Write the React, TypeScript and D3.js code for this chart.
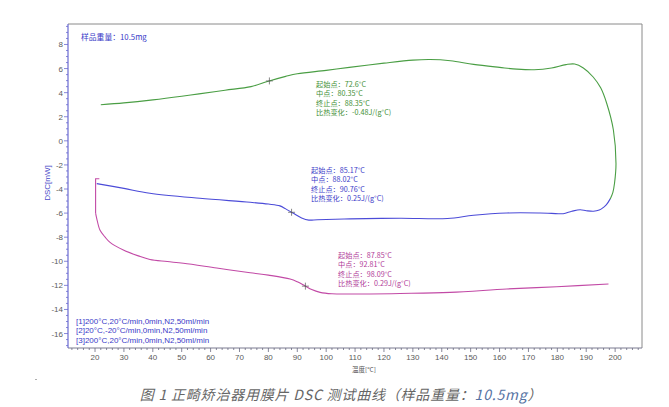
import * as d3 from "d3";
import { useEffect, useRef } from "react";

type Pt = [number, number];

// [1] heating 20 -> 200 °C, turning down at the isothermal end
const seg1: Pt[] = [
  [22, 3.0], [30, 3.15], [40, 3.4], [50, 3.7], [56, 3.9], [65, 4.2], [74, 4.5],
  [80, 4.95], [86, 5.35], [90, 5.57], [100, 5.85], [108, 6.1], [120, 6.45],
  [130, 6.7], [136, 6.75], [143, 6.65], [151, 6.35], [160, 6.1], [166, 5.95],
  [172, 5.9], [178, 6.05], [183, 6.33], [186, 6.38], [189, 6.05], [192.4, 5.3],
  [195, 4.4], [197.1, 3.1], [199.4, 0.9], [200.3, -1.9], [199.8, -3.5],
  [199.2, -4.3], [198.3, -4.82],
];

// [2] cooling 200 -> 20 °C
const seg2: Pt[] = [
  [198.3, -4.82], [197, -5.3], [196, -5.52], [194.5, -5.75], [192.5, -5.85],
  [190, -5.8], [187.9, -5.72], [185, -5.85], [182, -6.05], [178, -6.02],
  [174, -5.99], [162.5, -5.99], [151, -6.18], [142, -6.45], [125.6, -6.43],
  [108.3, -6.48], [97, -6.55], [94, -6.58], [91.5, -6.4], [88.5, -6.0],
  [86, -5.65], [84, -5.4], [80, -5.25], [73.7, -5.1], [56.3, -4.77],
  [39, -4.35], [30, -3.95], [20.6, -3.55],
];

// [3] second heating 20 -> 200 °C
const seg3Hook: Pt[] = [[21.5, -3.15], [20.2, -3.15], [20.2, -6.0]];
const seg3: Pt[] = [
  [20.2, -6.0], [20.6, -6.45], [21.7, -7.4], [23.5, -8.0], [25.2, -8.43],
  [29.8, -9.06], [35, -9.55], [39, -9.85], [45, -10.02], [50.6, -10.17],
  [62.1, -10.56], [73.7, -10.95], [80, -11.15], [87.5, -11.47], [90, -11.7],
  [92.7, -12.05], [95, -12.35], [97.9, -12.58], [102, -12.7], [108.3, -12.72],
  [125.6, -12.67], [142.9, -12.58], [162.5, -12.3], [179.8, -12.11],
  [197.7, -11.89],
];

const midpoints = [80.35, 88.02, 92.81];

const notes1 = ["起始点：72.6°C", "中点：80.35°C", "终止点：88.35°C", "比热变化：-0.48J/(g°C)"];
const notes2 = ["起始点：85.17°C", "中点：88.02°C", "终止点：90.76°C", "比热变化：0.25J/(g°C)"];
const notes3 = ["起始点：87.85°C", "中点：92.81°C", "终止点：98.09°C", "比热变化：0.29J/(g°C)"];

const methodLines = [
  "[1]200°C,20°C/min,0min,N2,50ml/min",
  "[2]20°C,-20°C/min,0min,N2,50ml/min",
  "[3]200°C,20°C/min,0min,N2,50ml/min",
];

const xTicks = [20, 30, 40, 50, 60, 70, 80, 90, 100, 110, 120, 130, 140, 150, 160, 170, 180, 190, 200];
const yTicks = [8, 6, 4, 2, 0, -2, -4, -6, -8, -10, -12, -14, -16];

const W = 669;
const H = 407;
const cjk = "'Noto Sans CJK SC', 'Liberation Sans', sans-serif";
const sans = "'Liberation Sans', Arial, 'Noto Sans CJK SC', sans-serif";

function yAt(pts: Pt[], t: number) {
  for (let i = 0; i < pts.length - 1; i++) {
    const [a, ya] = pts[i];
    const [b, yb] = pts[i + 1];
    if ((t - a) * (t - b) <= 0 && a !== b) return ya + ((t - a) / (b - a)) * (yb - ya);
  }
  return pts[0][1];
}

export default function App() {
  const ref = useRef<SVGSVGElement>(null);

  useEffect(() => {
    if (!ref.current) return;
    const svg = d3.select(ref.current);
    svg.selectAll("*").remove();

    const left = 68, right = 642, top = 24, bottom = 348;
    const x = d3.scaleLinear().domain([10.65, 209.3]).range([left, right]);
    const y = d3.scaleLinear().domain([-17.2, 9.7]).range([bottom, top]);

    // frame
    svg.append("path")
      .attr("d", `M${left},${top}H${right}V${bottom}`)
      .attr("fill", "none").attr("stroke", "#8a8a8a").attr("stroke-width", 1);
    svg.append("line")
      .attr("x1", left).attr("x2", right).attr("y1", bottom).attr("y2", bottom)
      .attr("stroke", "#7a7a90").attr("stroke-width", 1);
    svg.append("line")
      .attr("x1", left).attr("x2", left).attr("y1", top).attr("y2", bottom)
      .attr("stroke", "#6a6ad0").attr("stroke-width", 1.2);

    // x ticks
    const gx = svg.append("g");
    d3.range(12, 209, 2).forEach((t) => {
      const major = t % 10 === 0;
      gx.append("line")
        .attr("x1", x(t)).attr("x2", x(t))
        .attr("y1", bottom).attr("y2", bottom + (major ? 4 : 2))
        .attr("stroke", "#6a6a80").attr("stroke-width", 0.8);
    });
    xTicks.forEach((t) => {
      gx.append("text")
        .attr("x", x(t)).attr("y", bottom + 12)
        .attr("text-anchor", "middle")
        .style("font-family", sans).style("font-size", "8px").style("fill", "#5a5a5a")
        .text(t);
    });

    // y ticks
    const gy = svg.append("g");
    d3.range(-17, 9.6, 0.5).forEach((t) => {
      const major = Math.abs(t % 2) < 1e-9;
      gy.append("line")
        .attr("x1", left).attr("x2", left - (major ? 4 : 2))
        .attr("y1", y(t)).attr("y2", y(t))
        .attr("stroke", "#6a6ad0").attr("stroke-width", 0.8);
    });
    yTicks.forEach((t) => {
      gy.append("text")
        .attr("x", left - 5).attr("y", y(t) + 3)
        .attr("text-anchor", "end")
        .style("font-family", sans).style("font-size", "8px").style("fill", "#5a5a5a")
        .text(t);
    });

    // axis labels
    svg.append("text")
      .attr("transform", `translate(50,${183}) rotate(-90)`)
      .attr("text-anchor", "middle")
      .style("font-family", sans).style("font-size", "8px").style("fill", "#4a4ac8")
      .text("DSC[mW]");
    svg.append("text")
      .attr("x", 352).attr("y", 372)
      .style("font-family", cjk).style("font-size", "6.5px").style("fill", "#555")
      .text("温度[°C]");

    // curves
    const smooth = d3.line<Pt>().x((d) => x(d[0])).y((d) => y(d[1])).curve(d3.curveCatmullRom.alpha(0.5));
    const straight = d3.line<Pt>().x((d) => x(d[0])).y((d) => y(d[1]));
    const curves: { pts: Pt[]; color: string; gen: typeof smooth }[] = [
      { pts: seg1, color: "#4a9e44", gen: smooth },
      { pts: seg2, color: "#4b4bd8", gen: smooth },
      { pts: seg3Hook, color: "#c24aa6", gen: straight },
      { pts: seg3, color: "#c24aa6", gen: smooth },
    ];
    curves.forEach((c) => {
      svg.append("path")
        .attr("d", c.gen(c.pts))
        .attr("fill", "none").attr("stroke", c.color).attr("stroke-width", 1.1);
    });

    // midpoint markers
    [seg1, seg2, seg3].forEach((pts, i) => {
      const cx = x(midpoints[i]);
      const cy = y(yAt(pts, midpoints[i]));
      svg.append("path")
        .attr("d", `M${cx - 3.5},${cy}H${cx + 3.5}M${cx},${cy - 3.5}V${cy + 3.5}`)
        .attr("stroke", "#555").attr("stroke-width", 0.7);
    });

    // annotations
    const notes = [
      { lines: notes1, x: 316, y: 87, color: "#3f8f35" },
      { lines: notes2, x: 311, y: 173, color: "#3a3ac8" },
      { lines: notes3, x: 338, y: 258, color: "#b03a98" },
    ];
    notes.forEach((n) => {
      n.lines.forEach((s, i) => {
        svg.append("text")
          .attr("x", n.x).attr("y", n.y + i * 9.3)
          .style("font-family", cjk).style("font-size", "7.2px").style("fill", n.color)
          .text(s);
      });
    });

    svg.append("text")
      .attr("x", 81).attr("y", 40)
      .style("font-family", cjk).style("font-size", "7.8px").style("fill", "#3a3ac8")
      .text("样品重量：10.5mg");

    methodLines.forEach((s, i) => {
      svg.append("text")
        .attr("x", 76).attr("y", 324 + i * 9.3)
        .style("font-family", sans).style("font-size", "8px").style("fill", "#3a3ac8")
        .text(s);
    });

    // stray mark
    svg.append("line")
      .attr("x1", 35).attr("x2", 37).attr("y1", 379.5).attr("y2", 379.5)
      .attr("stroke", "#999").attr("stroke-width", 0.8);

    // caption
    const cap = svg.append("text")
      .attr("x", 341).attr("y", 400)
      .attr("text-anchor", "middle")
      .style("font-family", cjk).style("font-size", "14px").style("font-style", "italic")
      .style("letter-spacing", "0.8px")
      .style("fill", "#666");
    cap.append("tspan").text("图 1  正畸矫治器用膜片 DSC 测试曲线（样品重量：");
    cap.append("tspan").style("fill", "#5673a3").text("10.5mg");
    cap.append("tspan").text("）");
  }, []);

  return (
    <svg
      ref={ref}
      width={W}
      height={H}
      style={{ position: "absolute", left: 0, top: 0, background: "#fff", display: "block" }}
    />
  );
}
